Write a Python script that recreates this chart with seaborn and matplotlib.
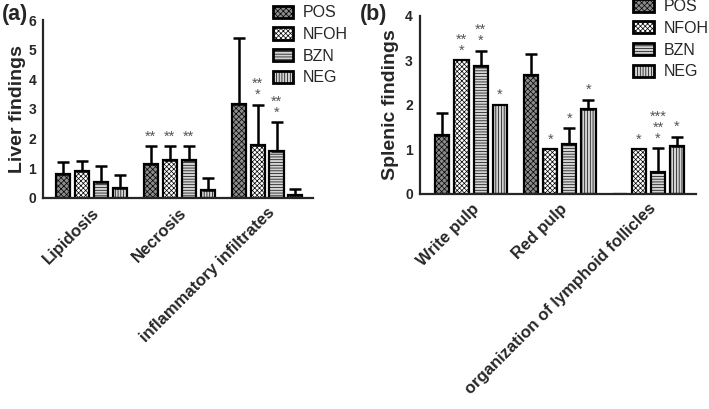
import matplotlib
matplotlib.use("Agg")
import matplotlib.pyplot as plt
from matplotlib.patches import Patch
import seaborn as sns
import numpy as np
import pandas as pd

groups = ["POS", "NFOH", "BZN", "NEG"]

liver_cats = ["Lipidosis", "Necrosis", "inflammatory infiltrates"]
liver_pos = [0.80, 1.15, 3.18]
liver_nfoh = [0.90, 1.28, 1.78]
liver_bzn = [0.53, 1.28, 1.58]
liver_neg = [0.35, 0.28, 0.11]
liver_pos_err = [0.42, 0.60, 2.20]
liver_nfoh_err = [0.35, 0.47, 1.37]
liver_bzn_err = [0.54, 0.47, 0.98]
liver_neg_err = [0.42, 0.39, 0.19]
liver_stars = [["", "", "", ""],
               ["**", "**", "**", ""],
               ["", "**\n*", "**\n*", ""]]

spleen_cats = ["Write pulp", "Red pulp", "organization of lymphoid follicles"]
spleen_pos = [1.33, 2.68, 0.0]
spleen_nfoh = [3.0, 1.0, 1.0]
spleen_bzn = [2.87, 1.11, 0.49]
spleen_neg = [2.0, 1.91, 1.08]
spleen_pos_err = [0.49, 0.47, 0.0]
spleen_nfoh_err = [0.0, 0.0, 0.0]
spleen_bzn_err = [0.35, 0.36, 0.53]
spleen_neg_err = [0.0, 0.21, 0.20]
spleen_stars = [["", "**\n*", "**\n*", "*"],
                ["", "*", "*", "*"],
                ["", "*", "***\n**\n*", "*"]]

# look of each group: face colour + hatch
styles = {
    "POS": ("#8c8c8c", "xxxxxx"),
    "NFOH": ("white", "xxxxxxx"),
    "BZN": ("#d4d4d4", "------"),
    "NEG": ("#d4d4d4", "||||||"),
}


def to_frame(cats, cols):
    rows = []
    for g, vals in zip(groups, cols):
        for c, v in zip(cats, vals):
            rows.append({"cat": c, "group": g, "value": v})
    return pd.DataFrame(rows)


def draw_panel(ax, cats, vals, errs, stars, ylabel, ymax, xlim, pad):
    df = to_frame(cats, vals)
    sns.barplot(data=df, x="cat", y="value", hue="group", hue_order=groups,
                order=cats, errorbar=None, width=0.864, gap=0.26,
                legend=False, ax=ax)
    bar_sets = list(ax.containers)[:len(groups)]
    for gi, cont in enumerate(bar_sets):
        face, hatch = styles[groups[gi]]
        xs, ys, es = [], [], []
        for ci, bar in enumerate(cont):
            bar.set_facecolor(face)
            bar.set_hatch(hatch)
            bar.set_edgecolor("black")
            bar.set_linewidth(1.6)
            cx = bar.get_x() + bar.get_width() / 2
            top = bar.get_height()
            e = errs[gi][ci]
            if e > 0:
                xs.append(cx)
                ys.append(top)
                es.append(e)
            s = stars[ci][gi]
            if s:
                ax.text(cx, top + e + ymax * 0.015, s, ha="center", va="bottom",
                        fontsize=10.5, color="#555555", linespacing=0.72)
        if xs:
            ax.errorbar(xs, ys, yerr=[np.zeros(len(es)), es], fmt="none",
                        ecolor="black", elinewidth=1.8, capsize=4, capthick=1.8)
    ax.set_xlim(*xlim)
    ax.set_ylim(0, ymax)
    ax.set_yticks(range(0, int(ymax) + 1))
    ax.set_xlabel("")
    ax.set_ylabel(ylabel, fontsize=14, fontweight="bold", labelpad=pad)
    ax.set_xticks(range(len(cats)))
    ax.set_xticklabels(cats, rotation=45, ha="right", rotation_mode="anchor",
                       fontsize=12, fontweight="bold")
    for lab in ax.get_yticklabels():
        lab.set_fontweight("bold")
        lab.set_fontsize(10)
    sns.despine(ax=ax)
    for sp in ("left", "bottom"):
        ax.spines[sp].set_linewidth(1.6)
    ax.tick_params(axis="both", width=1.4, length=4, pad=1)


sns.set_style("white")
plt.rcParams["font.family"] = ["Liberation Sans", "DejaVu Sans"]
plt.rcParams["hatch.linewidth"] = 0.5

fig = plt.figure(figsize=(7.09, 4.09), dpi=100)
ax1 = fig.add_axes([0.061, 0.516, 0.380, 0.435])
ax2 = fig.add_axes([0.592, 0.526, 0.390, 0.435])

draw_panel(ax1, liver_cats,
           [liver_pos, liver_nfoh, liver_bzn, liver_neg],
           [liver_pos_err, liver_nfoh_err, liver_bzn_err, liver_neg_err],
           liver_stars, "Liver findings", 6, (-0.55, 2.52), 2)
draw_panel(ax2, spleen_cats,
           [spleen_pos, spleen_nfoh, spleen_bzn, spleen_neg],
           [spleen_pos_err, spleen_nfoh_err, spleen_bzn_err, spleen_neg_err],
           spleen_stars, "Splenic findings", 4, (-0.58, 2.54), 4)

handles = [Patch(facecolor=styles[g][0], hatch=styles[g][1], edgecolor="black",
                 linewidth=2, label=g) for g in groups]
for anchor in [(0.380, 0.995), (0.889, 1.01)]:
    fig.legend(handles=handles, loc="upper left", bbox_to_anchor=anchor,
               frameon=False, fontsize=11.5, handlelength=1.3, handleheight=0.8,
               handletextpad=0.6, labelspacing=0.42, borderaxespad=0,
               borderpad=0.2)

fig.text(0.002, 0.99, "(a)", fontsize=15.5, fontweight="bold", va="top")
fig.text(0.508, 0.99, "(b)", fontsize=15.5, fontweight="bold", va="top")

fig.savefig("out.png", dpi=100)
